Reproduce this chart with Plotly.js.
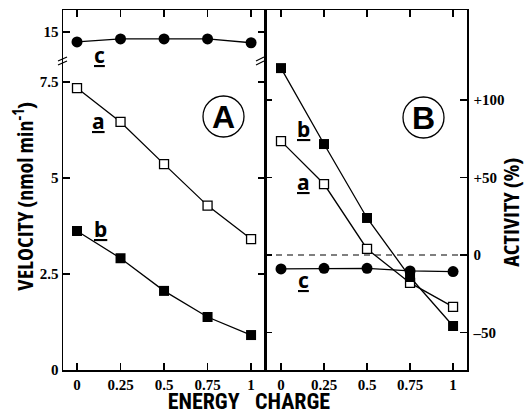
<!DOCTYPE html>
<html>
<head>
<meta charset="utf-8">
<script src="https://cdn.plot.ly/plotly-3.0.1.min.js"></script>
<style>
html,body{margin:0;padding:0;background:#fff;}
#chart{width:526px;height:417px;}
#chart text.annotation-text{font-stretch:75%;}
</style>
</head>
<body>
<div id="chart"></div>
<script>
// ---- data ----
const energyCharge = [0, 0.25, 0.5, 0.75, 1];
// Panel A: velocity (nmol min^-1)
const velA_a = [7.34, 6.46, 5.36, 4.28, 3.41];
const velA_b = [3.62, 2.91, 2.06, 1.38, 0.91];
const velA_c = [14.74, 14.82, 14.82, 14.82, 14.72];
// Panel B: activity (%)
const actB_a = [73.5, 45.8, 3.9, -18.0, -33.5];
const actB_b = [120.6, 71.6, 23.9, -14.2, -45.8];
const actB_c = [-9.0, -8.6, -8.6, -10.3, -10.7];
// tick labels
const xTickVals = [0, 0.25, 0.5, 0.75, 1];
const xTickText = ['0', '0.25', '0.5', '0.75', '1'];
const yLowTickVals = [0, 2.5, 5, 7.5];
const yLowTickText = ['0', '2.5', '5', '7.5'];
const yUpTickVals = [15];
const yUpTickText = ['15'];
const yBTickVals = [-50, 0, 50, 100];
const yBTickText = ['\u201350', '0', '+50', '+100'];

// ---- styling helpers ----
const serif = 'Liberation Serif, Times New Roman, serif';
const condTitle = 'Open Sans, sans-serif';
const condX = 'Roboto, sans-serif';
const condLetter = 'Noto Sans, sans-serif';
const tickFont = {family: serif, size: 15, color: '#000', weight: 'bold'};
const lineW = 1.3;

function openSq(x, y, xa, ya) {
  return {x, y, xaxis: xa, yaxis: ya, type: 'scatter', mode: 'lines+markers',
    line: {color: '#000', width: lineW},
    marker: {symbol: 'square', size: 9, color: '#fff', line: {color: '#000', width: 1.3}},
    showlegend: false, hoverinfo: 'skip'};
}
function fillSq(x, y, xa, ya) {
  return {x, y, xaxis: xa, yaxis: ya, type: 'scatter', mode: 'lines+markers',
    line: {color: '#000', width: lineW},
    marker: {symbol: 'square', size: 10, color: '#000'},
    showlegend: false, hoverinfo: 'skip'};
}
function circ(x, y, xa, ya) {
  return {x, y, xaxis: xa, yaxis: ya, type: 'scatter', mode: 'lines+markers',
    line: {color: '#000', width: lineW},
    marker: {symbol: 'circle', size: 11, color: '#000'},
    showlegend: false, hoverinfo: 'skip'};
}

const traces = [
  openSq(energyCharge, velA_a, 'x', 'y'),
  fillSq(energyCharge, velA_b, 'x', 'y'),
  circ(energyCharge, velA_c, 'x3', 'y3'),
  openSq(energyCharge, actB_a, 'x2', 'y4'),
  fillSq(energyCharge, actB_b, 'x2', 'y4'),
  circ(energyCharge, actB_c, 'x2', 'y4')
];

// pixel -> paper helpers (plot area 63..467 x, 10..370 y)
const PL = 63, PR = 467, PT = 10, PB = 370;
const px = v => (v - PL) / (PR - PL);
const py = v => (PB - v) / (PB - PT);
const splitY = 62;

const axBase = {showgrid: false, zeroline: false, showline: true, linecolor: '#000', linewidth: 1.5,
  ticks: 'inside', ticklen: 7, tickwidth: 1.5, tickcolor: '#000', tickfont: tickFont, fixedrange: true};

function lab(text, x, y, font, extra) {
  return Object.assign({text, xref: 'paper', yref: 'paper', x: px(x), y: py(y), xanchor: 'center', yanchor: 'middle',
    showarrow: false, font}, extra || {});
}
const letterFont = {family: condLetter, size: 21, weight: 'bold', color: '#000'};
const bigFont = {family: 'Liberation Sans, Arial, sans-serif', size: 32, weight: 'bold', color: '#000'};
const titleFont = {family: condTitle, size: 22, weight: 'bold', color: '#000'};

const layout = {
  width: 526, height: 417,
  margin: {l: PL, r: 526 - PR, t: PT, b: 417 - PB, pad: 0},
  paper_bgcolor: '#fff', plot_bgcolor: 'rgba(0,0,0,0)',
  showlegend: false,
  xaxis: Object.assign({}, axBase, {domain: [0, 0.5], range: [-0.0805, 1.080], anchor: 'y',
    tickmode: 'array', tickvals: xTickVals, ticktext: xTickText, ticklabelstandoff: 0}),
  xaxis3: Object.assign({}, axBase, {domain: [0, 0.5], range: [-0.0805, 1.080], anchor: 'y3', side: 'top',
    tickmode: 'array', tickvals: xTickVals, showticklabels: false}),
  xaxis2: Object.assign({}, axBase, {domain: [0.5, 1], range: [-0.093, 1.081], anchor: 'y4', mirror: 'ticks',
    tickmode: 'array', tickvals: xTickVals, ticktext: xTickText, ticklabelstandoff: 0}),
  yaxis: Object.assign({}, axBase, {domain: [0, py(splitY)], range: [0, 8.02], anchor: 'x', mirror: 'ticks',
    tickmode: 'array', tickvals: yLowTickVals, ticktext: yLowTickText, ticklabelstandoff: 0}),
  yaxis3: Object.assign({}, axBase, {domain: [py(splitY), 1], range: [14.22, 15.57], anchor: 'x3', mirror: 'ticks',
    tickmode: 'array', tickvals: yUpTickVals, ticktext: yUpTickText, ticklabelstandoff: 0}),
  yaxis4: Object.assign({}, axBase, {domain: [0, 1], range: [-74.2, 158.1], anchor: 'x2', side: 'right', mirror: 'ticks',
    tickmode: 'array', tickvals: yBTickVals, ticktext: yBTickText, ticklabelstandoff: 2}),
  shapes: [
    {type: 'line', xref: 'paper', yref: 'y4', x0: 0.5, x1: 1, y0: 0, y1: 0,
     line: {color: '#000', width: 1.2, dash: '6px,5px'}},
    {type: 'circle', xref: 'paper', yref: 'paper', x0: px(203), x1: px(244), y0: py(137), y1: py(96),
     line: {color: '#000', width: 1.3}},
    {type: 'circle', xref: 'paper', yref: 'paper', x0: px(403), x1: px(444), y0: py(138), y1: py(97),
     line: {color: '#000', width: 1.3}},
    {type: 'line', xref: 'paper', yref: 'paper', x0: px(58), x1: px(67), y0: py(61), y1: py(57), line: {color: '#000', width: 1.2}},
    {type: 'line', xref: 'paper', yref: 'paper', x0: px(58), x1: px(67), y0: py(65), y1: py(61), line: {color: '#000', width: 1.2}},
    {type: 'line', xref: 'paper', yref: 'paper', x0: px(256), x1: px(264), y0: py(61), y1: py(57), line: {color: '#000', width: 1.2}},
    {type: 'line', xref: 'paper', yref: 'paper', x0: px(256), x1: px(264), y0: py(65), y1: py(61), line: {color: '#000', width: 1.2}}
  ],
  annotations: [
    lab('<u>c</u>', 99, 55, letterFont),
    lab('<u>a</u>', 98, 121, letterFont),
    lab('<u>b</u>', 100, 229, letterFont),
    lab('<u>b</u>', 303, 129, letterFont),
    lab('<u>a</u>', 303, 182, letterFont),
    lab('<u>c</u>', 303, 280, letterFont),
    lab('A', 223.5, 117, bigFont),
    lab('B', 423.5, 118, bigFont),
    lab('VELOCITY (nmol min<sup>-1</sup>)', 24, 196, titleFont, {textangle: -90}),
    lab('ACTIVITY (%)', 510, 212, titleFont, {textangle: -90}),
    lab('ENERGY\u00a0\u00a0\u00a0CHARGE', 249, 402, {family: condX, size: 22, weight: 'bold', color: '#000'})
  ]
};

Plotly.newPlot('chart', traces, layout, {staticPlot: true, displayModeBar: false});
</script>
</body>
</html>
